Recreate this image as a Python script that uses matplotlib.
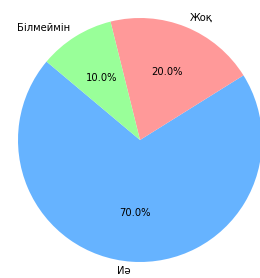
import matplotlib
matplotlib.use("Agg")
import matplotlib.pyplot as plt

# survey answers
labels = ['Иә', 'Жоқ', 'Білмеймін']
sizes = [70, 20, 10]
colors = ['#66b3ff', '#ff9999', '#99ff99']

fig = plt.figure(figsize=(2.6, 2.78), dpi=100)
ax = fig.add_axes([0, 0, 1, 1])

ax.pie(sizes, labels=labels, colors=colors, autopct='%1.1f%%',
       startangle=140, labeldistance=1.08, textprops={'fontsize': 7.2})

# place the pie like in the reference (centre ~ (140,140) px, radius ~122 px)
r = 122.0
cx, cy = 140.0, 140.0
ax.set_xlim(-cx / r, (260 - cx) / r)
ax.set_ylim(-(278 - cy) / r, cy / r)
ax.set_aspect('auto')
ax.axis('off')

fig.savefig('out.png', dpi=100)
